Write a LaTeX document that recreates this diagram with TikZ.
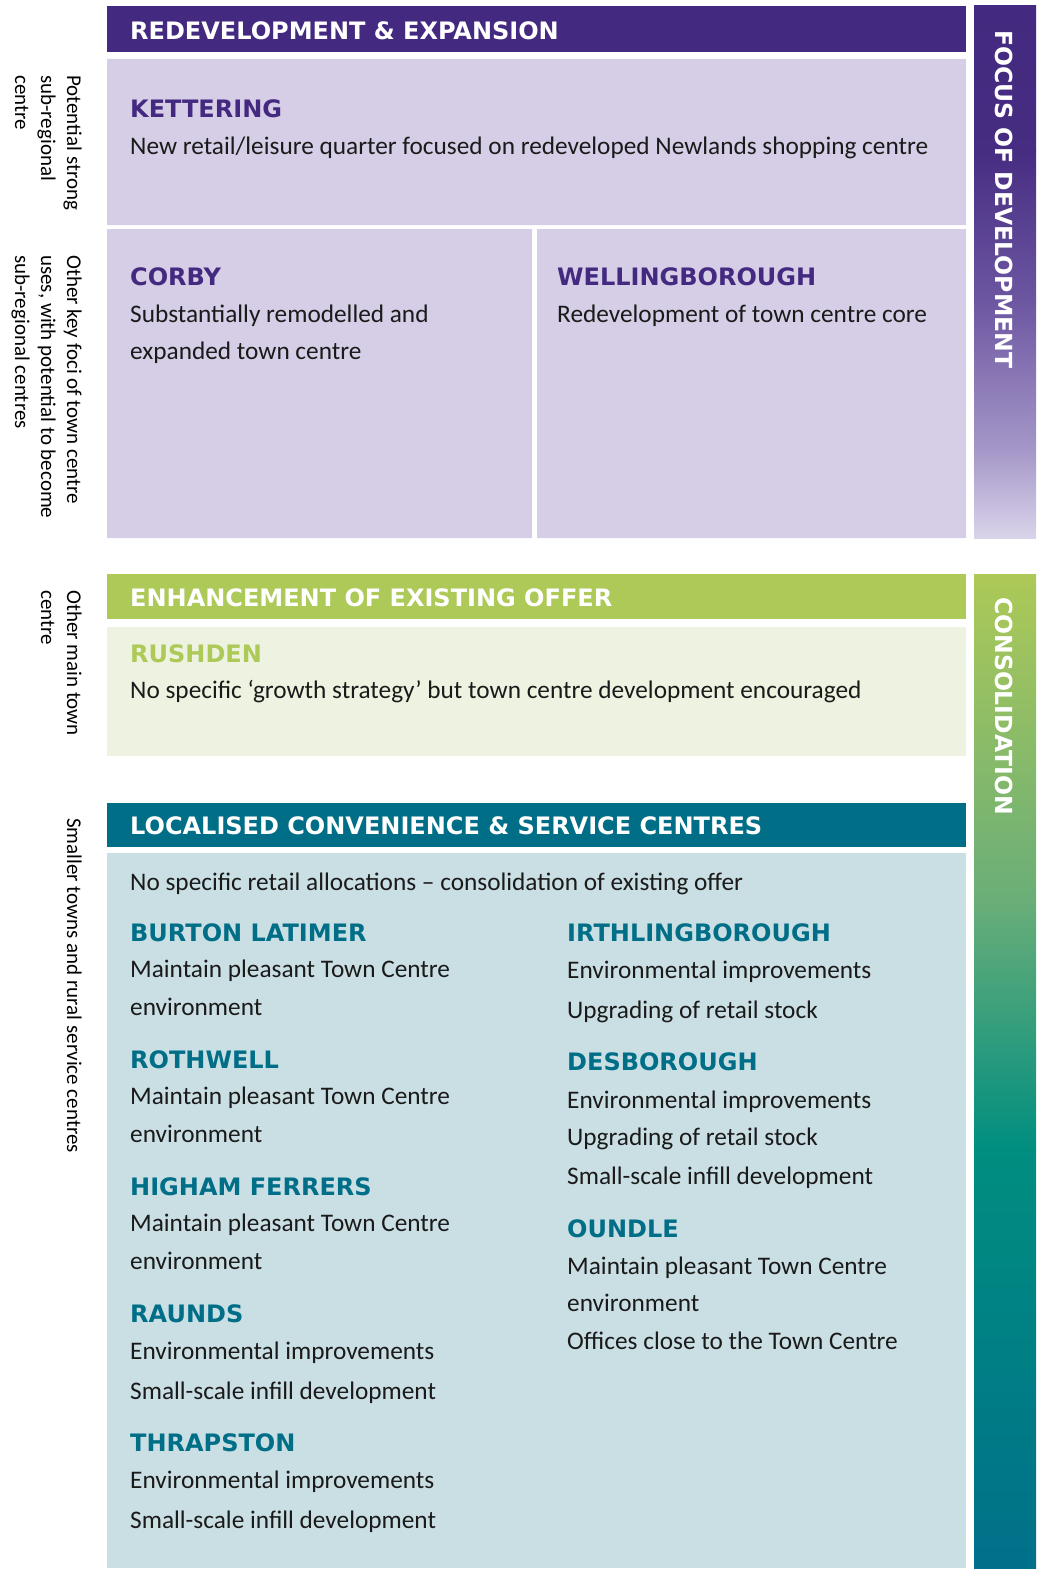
\documentclass[tikz,border=0pt]{standalone}
\usepackage{fontspec}
\setmainfont{Carlito}
\newfontfamily\headfont{DejaVu Sans}
\definecolor{purp}{HTML}{43297F}
\definecolor{purpmid}{HTML}{6C56A1}
\definecolor{purplight}{HTML}{A597C8}
\definecolor{purpend}{HTML}{DAD4EA}
\definecolor{lav}{HTML}{D6CEE6}
\definecolor{lime}{HTML}{ADC957}
\definecolor{palelime}{HTML}{EEF3E1}
\definecolor{sea}{HTML}{006E87}
\definecolor{palesea}{HTML}{CADFE4}
\definecolor{moss}{HTML}{6AAE78}
\definecolor{jade}{HTML}{008E80}
\definecolor{deepsea}{HTML}{00708A}
\definecolor{ink}{HTML}{1A1A1A}
\tikzset{
  hdr/.style={anchor=base west, inner sep=0pt, text=white, font=\headfont\bfseries\fontsize{24}{24}\selectfont},
  ttl/.style={anchor=base west, inner sep=0pt, font=\headfont\bfseries\fontsize{24}{24}\selectfont},
  txt/.style={anchor=base west, inner sep=0pt, text=ink, font=\fontsize{25.3}{37}\selectfont},
  side/.style={rotate=-90, anchor=north west, inner sep=0pt, align=left, text=black, font=\fontsize{21}{26}\selectfont},
  bartxt/.style={rotate=-90, anchor=west, inner sep=0pt, text=white, font=\headfont\bfseries\fontsize{23.5}{24}\selectfont}
}
\begin{document}
\begin{tikzpicture}[x=1pt, y=-1pt, line join=round, line cap=round]
\useasboundingbox (0,0) rectangle (1043,1571);
% panels
\fill[purp] (107,6) rectangle (966,52);
\fill[lav] (107,59) rectangle (966,225) (107,229) rectangle (532,538) (537,229) rectangle (966,538);
\fill[lime] (107,574) rectangle (966,619);
\fill[palelime] (107,627) rectangle (966,756);
\fill[sea] (107,803) rectangle (966,847);
\fill[palesea] (107,853) rectangle (966,1568);
% side bars
\shade[top color=purp, bottom color=purp!92!purpmid] (974,6) rectangle (1036,150);
\shade[top color=purp!92!purpmid, bottom color=purpmid] (974,150) rectangle (1036,300);
\shade[top color=purpmid, bottom color=purplight] (974,300) rectangle (1036,450);
\shade[top color=purplight, bottom color=purpend] (974,450) rectangle (1036,538);
\shade[top color=lime, bottom color=moss] (974,574) rectangle (1036,900);
\shade[top color=moss, bottom color=jade] (974,900) rectangle (1036,1150);
\shade[top color=jade, bottom color=deepsea] (974,1150) rectangle (1036,1568);
\node[bartxt] (focus) at (1004,30) {FOCUS OF DEVELOPMENT};
\node[bartxt] (consol) at (1004,597) {CONSOLIDATION};
% headers
\node[hdr] (h1) at (130,40) {REDEVELOPMENT \& EXPANSION};
\node[hdr] (h2) at (130,606) {ENHANCEMENT OF EXISTING OFFER};
\node[hdr] (h3) at (130,834) {LOCALISED CONVENIENCE \& SERVICE CENTRES};
% left labels
\node[side] (s1) at (82,75) {Potential strong\\sub-regional\\centre};
\node[side] (s2) at (82,255) {Other key foci of town centre\\uses, with potential to become\\sub-regional centres};
\node[side] (s3) at (82,590) {Other main town\\centre};
\node[side] (s4) at (82,818) {Smaller towns and rural service centres};
% top block
\node[ttl, text=purp] (kett) at (130,117) {KETTERING};
\node[txt] (kett1) at (130,154) {New retail/leisure quarter focused on redeveloped Newlands shopping centre};
\node[ttl, text=purp] (corby) at (130,285) {CORBY};
\node[txt] (corby1) at (130,322) {Substantially remodelled and};
\node[txt] (corby2) at (130,359) {expanded town centre};
\node[ttl, text=purp] (well) at (557,285) {WELLINGBOROUGH};
\node[txt] (well1) at (557,322) {Redevelopment of town centre core};
% middle block
\node[ttl, text=lime] (rush) at (130,662) {RUSHDEN};
\node[txt] (rush1) at (130,698) {No specific `growth strategy' but town centre development encouraged};
% lower block
\node[txt] (loc) at (130,890) {No specific retail allocations -- consolidation of existing offer};
\foreach \t/\y in {BURTON LATIMER/941, ROTHWELL/1068, HIGHAM FERRERS/1195, RAUNDS/1322, THRAPSTON/1451}
  \node[ttl, text=sea] (l\y) at (130,\y) {\t};
\foreach \t/\y in {IRTHLINGBOROUGH/941, DESBOROUGH/1070, OUNDLE/1237}
  \node[ttl, text=sea] (r\y) at (567,\y) {\t};
\foreach \t/\y in {Maintain pleasant Town Centre/977, environment/1015, Maintain pleasant Town Centre/1104, environment/1142,
  Maintain pleasant Town Centre/1231, environment/1269, Environmental improvements/1359, Small-scale infill development/1399,
  Environmental improvements/1488, Small-scale infill development/1528}
  \node[txt] (lt\y) at (130,\y) {\t};
\foreach \t/\y in {Environmental improvements/978, Upgrading of retail stock/1018, Environmental improvements/1108,
  Upgrading of retail stock/1145, Small-scale infill development/1184, Maintain pleasant Town Centre/1274,
  environment/1311, Offices close to the Town Centre/1349}
  \node[txt] (rt\y) at (567,\y) {\t};
\end{tikzpicture}
\end{document}
